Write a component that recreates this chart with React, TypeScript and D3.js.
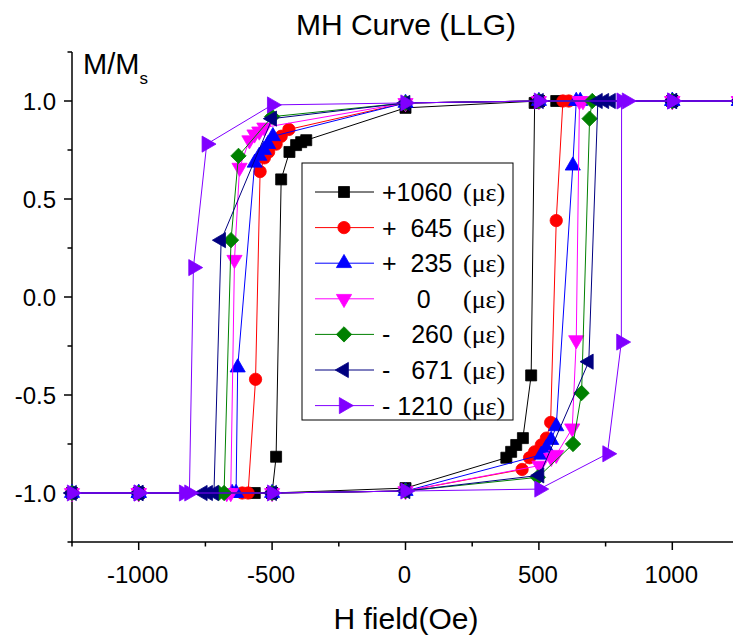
import React from "react";
import * as d3 from "d3";

// Hysteresis loops: each series runs from +1250 Oe down to -1250 Oe, then back up.
type Pt = [number, number];

const loopP1060: Pt[] = [
  [1250, 1], [1000, 1], [500, 1], [0, 0.965], [-372, 0.8], [-391, 0.79], [-410, 0.775],
  [-435, 0.74], [-466, 0.6], [-485, -0.815], [-500, -1], [-565, -1], [-1000, -1], [-1250, -1],
  [-1000, -1], [-500, -1], [0, -0.975], [378, -0.82], [396, -0.79], [415, -0.755], [440, -0.72],
  [471, -0.4], [484, 0.99], [500, 1], [565, 1], [1000, 1], [1250, 1],
];
const loopP645: Pt[] = [
  [1250, 1], [1000, 1], [500, 1], [0, 0.99], [-437, 0.855], [-466, 0.82], [-485, 0.78],
  [-513, 0.74], [-529, 0.71], [-545, 0.64], [-562, -0.42], [-590, -1], [-612, -1], [-1000, -1],
  [-1250, -1], [-1000, -1], [-500, -1], [0, -0.99], [437, -0.88], [465, -0.82], [484, -0.79],
  [509, -0.755], [528, -0.72], [544, -0.64], [565, 0.39], [590, 1], [612, 1], [1000, 1], [1250, 1],
];
const loopP235: Pt[] = [
  [1250, 1], [1000, 1], [500, 1], [0, 0.99], [-497, 0.82], [-515, 0.78], [-531, 0.75],
  [-548, 0.72], [-565, 0.685], [-629, -0.36], [-635, -1], [-650, -1], [-1000, -1], [-1250, -1],
  [-1000, -1], [-500, -1], [0, -0.99], [509, -0.805], [528, -0.77], [546, -0.73], [565, -0.66],
  [627, 0.67], [640, 1], [655, 1], [1000, 1], [1250, 1],
];
const loopZero: Pt[] = [
  [1250, 1], [1000, 1], [500, 1], [0, 0.99], [-529, 0.865], [-548, 0.845], [-566, 0.83],
  [-585, 0.8], [-622, 0.66], [-641, 0.19], [-655, -1], [-670, -1], [-1000, -1], [-1250, -1],
  [-1000, -1], [-500, -1], [0, -0.99], [502, -0.86], [546, -0.82], [565, -0.805], [625, -0.67],
  [640, -0.22], [652, 1], [665, 1], [1000, 1], [1250, 1],
];
const loopM260: Pt[] = [
  [1250, 1], [1000, 1], [500, 1], [0, 0.99], [-500, 0.92], [-626, 0.72], [-654, 0.29],
  [-680, -1], [-700, -1], [-1000, -1], [-1250, -1], [-1000, -1], [-500, -1], [0, -0.99],
  [496, -0.92], [628, -0.75], [660, -0.49], [690, 0.91], [700, 1], [1000, 1], [1250, 1],
];
const loopM671: Pt[] = [
  [1250, 1], [1000, 1], [500, 1], [0, 0.99], [-500, 0.91], [-691, 0.29], [-718, -1],
  [-740, -1], [-760, -1], [-1000, -1], [-1250, -1], [-1000, -1], [-500, -1], [0, -0.99],
  [502, -0.91], [687, -0.33], [721, 1], [745, 1], [770, 1], [1000, 1], [1250, 1],
];
const loopM1210: Pt[] = [
  [1250, 1], [1000, 1], [500, 1], [0, 0.99], [-500, 0.98], [-745, 0.78], [-795, 0.15],
  [-810, -1], [-830, -1], [-1000, -1], [-1250, -1], [-1000, -1], [-500, -1], [0, -0.99],
  [502, -0.98], [757, -0.8], [809, -0.23], [810, 1], [830, 1], [1000, 1], [1250, 1],
];

const strainSigns = ["+1060", "+  645", "+  235", "     0", "-   260", "-   671", "- 1210"];
const seriesColors = ["#000000", "#ff0000", "#0000ff", "#ff00ff", "#008000", "#000080", "#8000ff"];
const seriesShapes = ["square", "circle", "up", "down", "diamond", "left", "right"];
const seriesLoops = [loopP1060, loopP645, loopP235, loopZero, loopM260, loopM671, loopM1210];

const xMajorTicks = [-1000, -500, 0, 500, 1000];
const xMinorTicks = [-1250, -750, -250, 250, 750, 1250];
const xTickLabels = ["-1000", "-500", "0", "500", "1000"];
const yMajorTicks = [-1, -0.5, 0, 0.5, 1];
const yMinorTicks = [-1.25, -0.75, -0.25, 0.25, 0.75, 1.25];
const yTickLabels = ["-1.0", "-0.5", "0.0", "0.5", "1.0"];

const SANS = "'Liberation Sans', Arial, sans-serif";
const SERIF = "'Liberation Serif', 'Times New Roman', serif";

const x = d3.scaleLinear().domain([-1250, 1250]).range([72, 739]);
const y = d3.scaleLinear().domain([-1.25, 1.25]).range([542, 52]);

function symbolPath(shape: string): { d: string; rot: number } {
  const tri = d3.symbol().type(d3.symbolTriangle).size(100)() as string;
  switch (shape) {
    case "square":
      return { d: d3.symbol().type(d3.symbolSquare).size(121)() as string, rot: 0 };
    case "circle":
      return { d: d3.symbol().type(d3.symbolCircle).size(120)() as string, rot: 0 };
    case "up":
      return { d: tri, rot: 0 };
    case "down":
      return { d: tri, rot: 180 };
    case "diamond":
      return { d: d3.symbol().type(d3.symbolSquare).size(118)() as string, rot: 45 };
    case "left":
      return { d: tri, rot: -90 };
    default:
      return { d: d3.symbol().type(d3.symbolTriangle).size(112)() as string, rot: 90 };
  }
}

const Marker = ({ cx, cy, shape, color }: { cx: number; cy: number; shape: string; color: string }) => {
  const s = symbolPath(shape);
  return (
    <path
      d={s.d}
      transform={`translate(${cx},${cy}) rotate(${s.rot})`}
      fill={color}
      stroke={color}
      strokeWidth={0.8}
    />
  );
};

export default function App() {
  const line = d3
    .line<Pt>()
    .x((d) => x(d[0]))
    .y((d) => y(d[1]));

  const legendX = 302;
  const legendY = 163;
  const rowStep = 35.6;

  return (
    <svg
      width={733}
      height={640}
      style={{ position: "absolute", left: 0, top: 0, background: "#fff" }}
    >
      <rect width={733} height={640} fill="#fff" />
      <text x={406} y={35} textAnchor="middle" fontFamily={SANS} fontSize={30}>
        MH Curve (LLG)
      </text>

      {/* axes */}
      <g stroke="#000" strokeWidth={1.5} fill="none">
        <line x1={72} y1={y(1.25)} x2={72} y2={542.75} />
        <line x1={71.25} y1={542} x2={733} y2={542} />
        {yMajorTicks.map((t) => (
          <line key={`ym${t}`} x1={64} x2={72} y1={y(t)} y2={y(t)} />
        ))}
        {yMinorTicks.map((t) => (
          <line key={`yn${t}`} x1={67.5} x2={72} y1={y(t)} y2={y(t)} />
        ))}
        {xMajorTicks.map((t) => (
          <line key={`xm${t}`} x1={x(t)} x2={x(t)} y1={542} y2={550} />
        ))}
        {xMinorTicks.map((t) => (
          <line key={`xn${t}`} x1={x(t)} x2={x(t)} y1={542} y2={546.5} />
        ))}
      </g>
      {yMajorTicks.map((t, i) => (
        <text key={`yl${t}`} x={56} y={y(t) + 8.5} textAnchor="end" fontFamily={SANS} fontSize={24}>
          {yTickLabels[i]}
        </text>
      ))}
      {xMajorTicks.map((t, i) => (
        <text key={`xl${t}`} x={x(t) - 1} y={583} textAnchor="middle" fontFamily={SANS} fontSize={24}>
          {xTickLabels[i]}
        </text>
      ))}
      <text x={83} y={74} fontFamily={SANS} fontSize={29}>
        M/M
        <tspan fontSize={17} dy={10}>s</tspan>
      </text>
      <text x={406} y={629} textAnchor="middle" fontFamily={SANS} fontSize={30}>
        H field(Oe)
      </text>

      {/* hysteresis loops */}
      {seriesLoops.map((loop, i) => (
        <g key={`s${i}`}>
          <path d={line(loop) as string} fill="none" stroke={seriesColors[i]} strokeWidth={1} />
          {loop.map((p, j) => (
            <Marker key={j} cx={x(p[0])} cy={y(p[1])} shape={seriesShapes[i]} color={seriesColors[i]} />
          ))}
        </g>
      ))}

      {/* legend */}
      <rect x={legendX} y={legendY} width={211} height={257} fill="#fff" stroke="#000" strokeWidth={1} />
      {strainSigns.map((label, i) => {
        const cy = legendY + 29 + i * rowStep;
        return (
          <g key={`lg${i}`}>
            <line x1={315} x2={374} y1={cy} y2={cy} stroke={seriesColors[i]} strokeWidth={1} />
            <Marker cx={344} cy={cy} shape={seriesShapes[i]} color={seriesColors[i]} />
            <text x={382} y={cy + 9} fontFamily={SANS} fontSize={25} style={{ whiteSpace: "pre" }}>
              {label}
            </text>
            <text x={463} y={cy + 9} fontFamily={SERIF} fontSize={26}>
              (με)
            </text>
          </g>
        );
      })}
    </svg>
  );
}
